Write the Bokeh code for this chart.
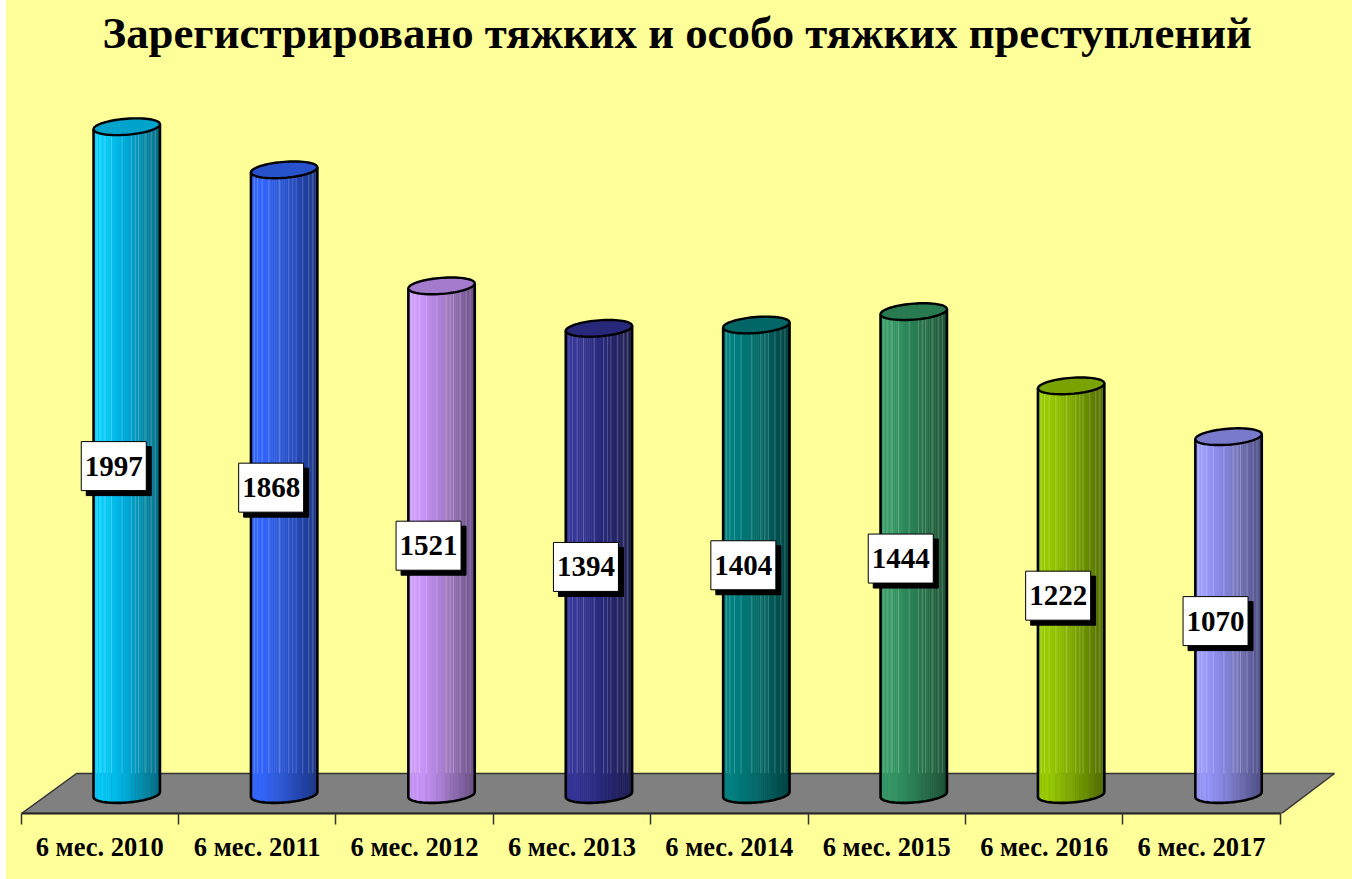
import math
from bokeh.embed import file_html
from bokeh.resources import INLINE
from bokeh.plotting import figure
from bokeh.models import FixedTicker, LinearAxis, Range1d, Title
from bokeh.core.properties import value

TITLE = "Зарегистрировано тяжких и особо тяжких преступлений"
categories = ["6 мес. 2010", "6 мес. 2011", "6 мес. 2012", "6 мес. 2013",
              "6 мес. 2014", "6 мес. 2015", "6 мес. 2016", "6 мес. 2017"]
values = [1997, 1868, 1521, 1394, 1404, 1444, 1222, 1070]
bar_colors = ["#00CCFF", "#3366FF", "#CC99FF", "#333399",
              "#008080", "#339966", "#99CC00", "#9999FF"]

FONT = "Liberation Serif"
W, H = 1346, 879
LEFT = 6
TOP_H = 62       # frame top in page px
FRONT = 813      # frame bottom / axis line in page px
ZERO = 794
PPU = 0.3344     # px per value unit
PX0, STEP = 99.25, 157.4


def X(px):
    return (px - PX0) / STEP


def dx(px):
    return px / STEP


def dy(px):
    return px / PPU


def Y(py):
    return (ZERO - py) / PPU


def shade(c, f):
    r, g, b = int(c[1:3], 16), int(c[3:5], 16), int(c[5:7], 16)
    return "#%02x%02x%02x" % (int(r * f), int(g * f), int(b * f))


p = figure(width=W, height=H, output_backend="svg", toolbar_location=None,
           x_range=Range1d(X(LEFT), X(LEFT + W)), y_range=Range1d(Y(FRONT), Y(TOP_H)),
           x_axis_location=None, y_axis_location=None,
           min_border_left=0, min_border_right=0, min_border_top=0, min_border_bottom=66,
           background_fill_color="#FFFF99", border_fill_color="#FFFF99", outline_line_color=None)
p.grid.visible = False
p.styles = {"position": "absolute", "left": f"{LEFT}px", "top": "0px", "background-color": "#FFFF99"}

p.title = Title(text=TITLE, align="left", offset=96, text_font=FONT, text_font_style="bold",
                text_font_size="44.8px", text_color="black", standoff=10)

# floor
p.patch([X(21), X(1281), X(1334), X(76)], [Y(813), Y(813), Y(773), Y(773)],
        fill_color="#808080", line_color="#333333", line_width=1.5)

RX, RY, TILT, DEPTH = 33.2, 8.0, 2.5, 27.0
N = 34
stripes = [0.05, 0.10, 0.17, 0.27, 0.43, 0.57, 0.63, 0.68, 0.78, 0.87, 0.93]


def brightness(u):
    # u in -1..1 across the cylinder
    if u < -0.7:
        return 1.0
    if u < 0:
        return 1.0 - 0.17 * (u + 0.7) / 0.7
    return 0.83 - 0.31 * u


def ell(cx, cy, t):
    return cx + RX * math.cos(t), cy - TILT * math.cos(t) + RY * math.sin(t)


for i, (v, col) in enumerate(zip(values, bar_colors)):
    cx_d = i + dx(DEPTH)
    cx = PX0 + STEP * cx_d
    cy_top = ZERO - v * PPU
    cy_bot = ZERO

    def lower(px, cy):
        u = max(-1, min(1, (px - cx) / RX))
        return cy - TILT * u + RY * math.sqrt(1 - u * u)

    xs, ys, cols = [], [], []
    for k in range(N):
        a = cx - RX + 2 * RX * k / N
        b = cx - RX + 2 * RX * (k + 1) / N
        u = (a + b - 2 * cx) / (2 * RX)
        xs.append([X(a), X(b + 0.4), X(b + 0.4), X(a)])
        ys.append([Y(cy_top), Y(cy_top), Y(lower(b, cy_bot)), Y(lower(a, cy_bot))])
        cols.append(shade(col, brightness(u)))
    p.patches(xs, ys, fill_color=cols, line_color=None)

    # lighter seams above the floor line, faint dark ones below it
    sx = [[X(cx - RX + 2 * RX * s)] * 2 for s in stripes]
    p.multi_line(sx, [[Y(cy_top), Y(773)] for s in stripes],
                 line_color="white", line_alpha=0.22, line_width=1)
    p.multi_line(sx, [[Y(773), Y(lower(cx - RX + 2 * RX * s, cy_bot))] for s in stripes],
                 line_color="#555555", line_alpha=0.12, line_width=1)

    # outline of the body
    arc = [ell(cx, cy_bot, math.pi - math.pi * k / 48) for k in range(49)]
    ox = [X(cx - RX)] + [X(a[0]) for a in arc] + [X(cx + RX)]
    oy = [Y(cy_top + TILT)] + [Y(a[1]) for a in arc] + [Y(cy_top - TILT)]
    p.line(ox, oy, line_color="black", line_width=2.6)

    # top cap
    cap = [ell(cx, cy_top, 2 * math.pi * k / 72) for k in range(72)]
    p.patch([X(a[0]) for a in cap], [Y(a[1]) for a in cap],
            fill_color=shade(col, 0.8), line_color="black", line_width=2.4)

# value labels
lab_x = [i + dx(14.0) for i in range(len(values))]
lab_y = [v / 2 - dy(5.5) for v in values]
p.rect([a + dx(5) for a in lab_x], [b - dy(5) for b in lab_y], width=65, height=49,
       width_units="screen", height_units="screen", fill_color="black", line_color="black")
p.rect(lab_x, lab_y, width=65, height=49, width_units="screen", height_units="screen",
       fill_color="white", line_color="black", line_width=1)
p.text(lab_x, lab_y, text=[str(v) for v in values], text_align="center", text_baseline="middle",
       text_font=value(FONT), text_font_style="bold", text_font_size="29px", text_color="black")

# axis
centres = list(range(len(categories)))
bounds = [c - 0.5 for c in centres] + [len(categories) - 0.5]
ax = LinearAxis(ticker=FixedTicker(ticks=centres, minor_ticks=bounds),
                major_label_overrides={c: t for c, t in zip(centres, categories)},
                bounds=(-0.5, len(categories) - 0.5))
ax.axis_line_color = "#222222"
ax.axis_line_width = 2
ax.major_tick_line_color = None
ax.major_tick_in = 0
ax.major_tick_out = 0
ax.minor_tick_line_color = "#333333"
ax.minor_tick_line_width = 1.5
ax.minor_tick_in = 0
ax.minor_tick_out = 11
ax.major_label_standoff = 7
ax.major_label_text_font = FONT
ax.major_label_text_font_style = "bold"
ax.major_label_text_font_size = "26.5px"
ax.major_label_text_color = "black"
p.add_layout(ax, "below")

open("out.html", "w").write(file_html(p, INLINE))
